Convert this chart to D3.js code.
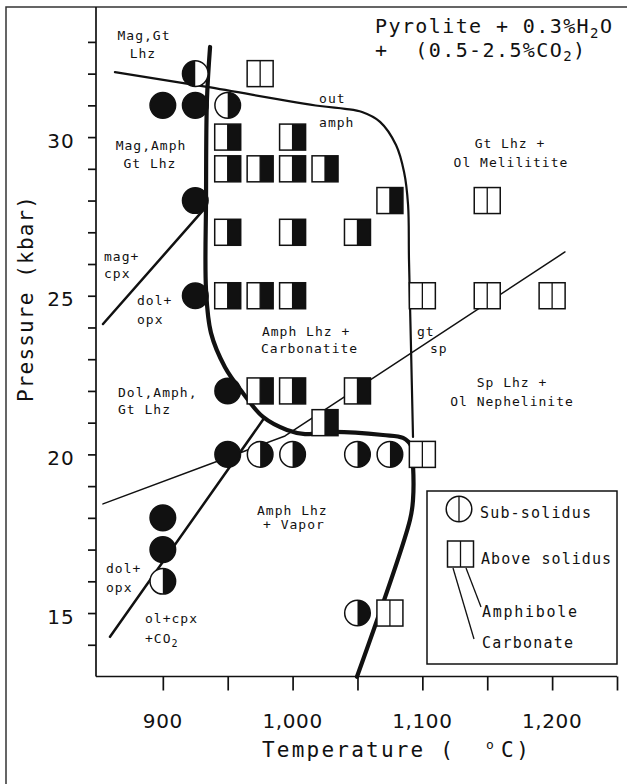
<!DOCTYPE html>
<html>
<head>
<meta charset="utf-8">
<script src="https://cdn.jsdelivr.net/npm/d3@7/dist/d3.min.js"></script>
<style>
  html, body { margin: 0; padding: 0; background: #fff; }
  svg { display: block; }
  text { fill: #111; font-family: "DejaVu Sans Mono", monospace; }
</style>
</head>
<body>
<svg id="chart" width="627" height="784"></svg>
<script>
// ---- axis ticks ----
const tempTicks = [900, 950, 1000, 1050, 1100, 1150, 1200, 1250];
const tempLabels = [900, 1000, 1100, 1200];
const pressureTicks = [14, 15, 16, 17, 18, 19, 20, 21, 22, 23, 24, 25, 26, 27, 28, 29, 30, 31, 32, 33];
const pressureLabels = [15, 20, 25, 30];

// ---- experimental runs: [T (°C), P (kbar), carbonate present, amphibole present] ----
const subSolidus = [
  [925, 32, 1, 0],
  [900, 31, 1, 1], [925, 31, 1, 1], [950, 31, 0, 1],
  [925, 28, 1, 1],
  [925, 25, 1, 1],
  [950, 22, 1, 1],
  [950, 20, 1, 1], [975, 20, 0, 1], [1000, 20, 0, 1], [1050, 20, 0, 1], [1075, 20, 0, 1],
  [900, 18, 1, 1], [900, 17, 1, 1], [900, 16, 0, 1],
  [1050, 15, 0, 1]
];
const aboveSolidus = [
  [975, 32, 0, 0],
  [950, 30, 0, 1], [1000, 30, 0, 1],
  [950, 29, 0, 1], [975, 29, 0, 1], [1000, 29, 0, 1], [1025, 29, 0, 1],
  [1075, 28, 0, 1], [1150, 28, 0, 0],
  [950, 27, 0, 1], [1000, 27, 0, 1], [1050, 27, 0, 1],
  [950, 25, 0, 1], [975, 25, 0, 1], [1000, 25, 0, 1],
  [1100, 25, 0, 0], [1150, 25, 0, 0], [1200, 25, 0, 0],
  [975, 22, 0, 1], [1000, 22, 0, 1], [1050, 22, 0, 1],
  [1025, 21, 0, 1],
  [1100, 20, 0, 0],
  [1075, 15, 0, 0]
];

// ---- phase boundaries, [T (°C), P (kbar)] ----
const solidus = [
  [936.4, 32.84], [934.0, 31.17], [933.3, 28.02], [933.3, 25.18], [937.1, 23.83],
  [947.9, 22.75], [961.8, 21.93], [977.2, 21.18], [995.7, 20.77], [1009.6, 20.64],
  [1031.1, 20.71], [1069.7, 20.61], [1085.1, 20.52], [1091.3, 20.27], [1092.8, 19.67],
  [1092.8, 18.57], [1090.5, 17.94], [1049.6, 12.99]
];
const amphOut = [
  [863.1, 32.05], [934.0, 31.58], [1021.1, 30.98], [1040.4, 30.89], [1053.5, 30.79],
  [1067.4, 30.48], [1079.7, 29.75], [1085.9, 28.90], [1089.0, 27.86], [1089.7, 26.13],
  [1091.3, 23.29], [1092.8, 20.55]
];
const magCpx = [[932.5, 27.76], [853.9, 24.11]];
const dolOpx = [[977.2, 21.09], [859.3, 14.25]];
const gtSp = [[853.9, 18.44], [994.2, 20.58], [1209.9, 26.38]];

// ---- field names, anchored at [T, P] ----
const fieldLabels = [
  ["Mag,Gt", 885.5, 33.06, "middle"], ["Lhz", 884.7, 32.49, "middle"],
  ["Mag,Amph", 890.9, 29.59, "middle"], ["Gt Lhz", 890.1, 29.03, "middle"],
  ["mag+", 854.7, 26.09, "start"], ["cpx", 854.7, 25.56, "start"],
  ["dol+", 880.1, 24.71, "start"], ["opx", 880.1, 24.11, "start"],
  ["Dol,Amph,", 865.5, 21.81, "start"], ["Gt Lhz", 865.5, 21.27, "start"],
  ["Amph Lhz +", 976.4, 23.73, "start"], ["Carbonatite", 975.7, 23.2, "start"],
  ["out", 1020.4, 31.08, "start"], ["amph", 1020.4, 30.32, "start"],
  ["Gt Lhz +", 1167.5, 29.66, "middle"], ["Ol Melilitite", 1168.3, 29.06, "middle"],
  ["gt", 1095.9, 23.73, "start"], ["sp", 1105.9, 23.2, "start"],
  ["Sp Lhz +", 1169.1, 22.13, "middle"], ["Ol Nephelinite", 1169.1, 21.53, "middle"],
  ["Amph Lhz", 972.6, 18.09, "start"], ["+ Vapor", 977.2, 17.65, "start"],
  ["dol+", 856.2, 16.26, "start"], ["opx", 856.2, 15.66, "start"],
  ["ol+cpx", 886.3, 14.69, "start"], ["+CO_2", 886.3, 14.06, "start"]
];

const svg = d3.select("#chart");
const ink = "#111";

const x = d3.scaleLinear().domain([848.5, 1250]).range([96, 617]);
const y = d3.scaleLinear().domain([13, 34.1]).range([676.5, 7]);

// outer figure frame (left and top edges)
svg.append("path").attr("d", "M6,784 V7 H627")
  .attr("fill", "none").attr("stroke", "#333").attr("stroke-width", 1.5);

// axes
const xAxis = d3.axisBottom(x).tickValues(tempTicks).tickSize(14).tickFormat("");
const gx = svg.append("g").attr("transform", `translate(0,${y(13)})`).call(xAxis);
gx.select(".domain").attr("d", `M${x.range()[0]},0H${x.range()[1]}`);
const yAxis = d3.axisLeft(y).tickValues(pressureTicks).tickSize(8).tickFormat("");
const gy = svg.append("g").attr("transform", `translate(${x(848.5)},0)`).call(yAxis);
gy.select(".domain").attr("d", `M0,${y.range()[0]}V${y.range()[1]}`);
svg.selectAll(".domain, .tick line").attr("stroke", ink).attr("stroke-width", 1.7);

const fmt = d3.format(",");
svg.append("g").selectAll("text").data(tempLabels).join("text")
  .attr("x", d => x(d)).attr("y", 728)
  .attr("text-anchor", "middle")
  .style("font-family", "'DejaVu Sans', sans-serif")
  .attr("font-size", 20).attr("letter-spacing", 0.6)
  .text(d => fmt(d));
svg.append("g").selectAll("text").data(pressureLabels).join("text")
  .attr("x", 75).attr("y", d => y(d) + 10.5)
  .attr("text-anchor", "end")
  .style("font-family", "'DejaVu Sans', sans-serif")
  .attr("font-size", 20).attr("letter-spacing", 1.2)
  .text(d => d);

// axis titles
const xt = svg.append("text").attr("y", 757).attr("font-size", 21);
xt.append("tspan").attr("x", 262).attr("textLength", 191).attr("lengthAdjust", "spacing").text("Temperature (");
xt.append("tspan").attr("x", 486).attr("dy", -8).attr("font-size", 13).text("o");
xt.append("tspan").attr("x", 501).attr("dy", 8).attr("textLength", 28).attr("lengthAdjust", "spacing").text("C)");

svg.append("text")
  .attr("transform", "translate(33,402) rotate(-90)")
  .attr("font-size", 21)
  .attr("textLength", 206).attr("lengthAdjust", "spacing")
  .text("Pressure (kbar)");

// title
const t1 = svg.append("text").attr("x", 375).attr("y", 33).attr("font-size", 20).attr("letter-spacing", 1.4);
t1.append("tspan").text("Pyrolite + 0.3%H");
t1.append("tspan").attr("font-size", 14).attr("dy", 5).text("2");
t1.append("tspan").attr("dy", -5).text("O");
const t2 = svg.append("text").attr("x", 375).attr("y", 57).attr("font-size", 20)
  .attr("letter-spacing", 1.4).style("white-space", "pre");
t2.append("tspan").text("+  (0.5-2.5%CO");
t2.append("tspan").attr("font-size", 14).attr("dy", 4).text("2");
t2.append("tspan").attr("dy", -4).text(")");

// boundaries
const line = d3.line().x(d => x(d[0])).y(d => y(d[1]));
const smooth = d3.line().x(d => x(d[0])).y(d => y(d[1])).curve(d3.curveCatmullRom.alpha(0.5));
const bounds = svg.append("g").attr("fill", "none").attr("stroke", ink)
  .attr("stroke-linejoin", "round").attr("stroke-linecap", "round");
bounds.append("path").attr("d", line(gtSp)).attr("stroke-width", 1.5);
bounds.append("path").attr("d", line(magCpx)).attr("stroke-width", 2.5);
bounds.append("path").attr("d", line(dolOpx)).attr("stroke-width", 2.5);
bounds.append("path").attr("d", smooth(amphOut)).attr("stroke-width", 2.2);
bounds.append("path").attr("d", smooth(solidus)).attr("stroke-width", 4.2);

// field labels
const labels = svg.append("g").attr("font-size", 13).attr("letter-spacing", 1);
fieldLabels.forEach(([txt, T, P, anchor]) => {
  const el = labels.append("text").attr("x", x(T)).attr("y", y(P)).attr("text-anchor", anchor);
  txt.split(/(_\d)/).filter(s => s).forEach(part => {
    if (part.startsWith("_")) {
      el.append("tspan").attr("font-size", 10).attr("dy", 4).text(part.slice(1));
    } else {
      el.append("tspan").text(part);
    }
  });
});

// symbols
const R = 12.8, S = 26;
function circleSymbol(g, carb, amph, divider) {
  if (carb && amph) {
    g.append("circle").attr("r", R).attr("fill", ink).attr("stroke", ink).attr("stroke-width", 1.5);
    return;
  }
  g.append("circle").attr("r", R).attr("fill", "#fff");
  if (amph) g.append("path").attr("d", `M0,${-R}A${R},${R} 0 0 1 0,${R}Z`).attr("fill", ink);
  if (carb) g.append("path").attr("d", `M0,${-R}A${R},${R} 0 0 0 0,${R}Z`).attr("fill", ink);
  if (divider) g.append("line").attr("y1", -R).attr("y2", R).attr("stroke", ink).attr("stroke-width", 1.3);
  g.append("circle").attr("r", R).attr("fill", "none").attr("stroke", ink).attr("stroke-width", 1.5);
}
function squareSymbol(g, carb, amph) {
  g.append("rect").attr("x", -S / 2).attr("y", -S / 2).attr("width", S).attr("height", S).attr("fill", "#fff");
  if (carb) g.append("rect").attr("x", -S / 2).attr("y", -S / 2).attr("width", S / 2).attr("height", S).attr("fill", ink);
  if (amph) g.append("rect").attr("x", 0).attr("y", -S / 2).attr("width", S / 2).attr("height", S).attr("fill", ink);
  g.append("line").attr("y1", -S / 2).attr("y2", S / 2).attr("stroke", ink).attr("stroke-width", 1.3);
  g.append("rect").attr("x", -S / 2).attr("y", -S / 2).attr("width", S).attr("height", S)
    .attr("fill", "none").attr("stroke", ink).attr("stroke-width", 1.5);
}

svg.append("g").selectAll("g").data(subSolidus).join("g")
  .attr("transform", d => `translate(${x(d[0])},${y(d[1])})`)
  .each(function (d) { circleSymbol(d3.select(this), d[2], d[3], false); });
svg.append("g").selectAll("g").data(aboveSolidus).join("g")
  .attr("transform", d => `translate(${x(d[0])},${y(d[1])})`)
  .each(function (d) { squareSymbol(d3.select(this), d[2], d[3]); });

// legend
const lg = svg.append("g");
lg.append("rect").attr("x", 427).attr("y", 491).attr("width", 190).attr("height", 173)
  .attr("fill", "#fff").attr("stroke", ink).attr("stroke-width", 1.5);
circleSymbol(lg.append("g").attr("transform", "translate(459,509)"), 0, 0, true);
squareSymbol(lg.append("g").attr("transform", "translate(460.5,554)"), 0, 0);
lg.append("line").attr("x1", 453).attr("y1", 568).attr("x2", 474).attr("y2", 639)
  .attr("stroke", ink).attr("stroke-width", 1.3);
lg.append("line").attr("x1", 466).attr("y1", 568).attr("x2", 481).attr("y2", 607)
  .attr("stroke", ink).attr("stroke-width", 1.3);
const legendText = [["Sub-solidus", 480, 518, 111], ["Above solidus", 481, 564, 130],
                    ["Amphibole", 482, 617, 95], ["Carbonate", 482, 648, 91]];
legendText.forEach(([txt, lx, ly, len]) => {
  lg.append("text").attr("x", lx).attr("y", ly).attr("font-size", 15)
    .attr("textLength", len).attr("lengthAdjust", "spacing").text(txt);
});
</script>
</body>
</html>
